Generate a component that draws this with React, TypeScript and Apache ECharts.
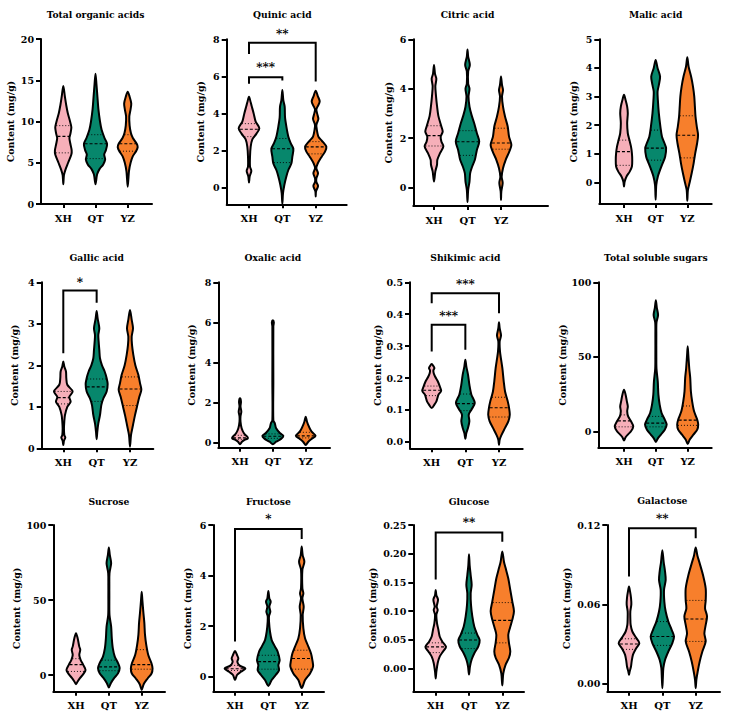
import React, { useEffect, useRef } from 'react';
import * as echarts from 'echarts';

const groups = ['XH', 'QT', 'YZ'];
const fills = ['#F6AFB9', '#07876C', '#F77F2C'];

const titles = ['Total organic acids', 'Quinic acid', 'Citric acid', 'Malic acid', 'Gallic acid', 'Oxalic acid', 'Shikimic acid', 'Total soluble sugars', 'Sucrose', 'Fructose', 'Glucose', 'Galactose'];

const yMin = [0, -0.9, -0.75, -0.75, 0, -0.27, -0.02, -11, -11, -0.59, -0.04, -0.006];
const yMax = [20, 8, 6, 5, 4, 8, 0.5, 100, 100, 6, 0.25, 0.12];
const yTicks = [
  [0, 5, 10, 15, 20], [0, 2, 4, 6, 8], [0, 2, 4, 6], [0, 1, 2, 3, 4, 5],
  [0, 1, 2, 3, 4], [0, 2, 4, 6, 8], [0, 0.1, 0.2, 0.3, 0.4, 0.5], [0, 50, 100],
  [0, 50, 100], [0, 2, 4, 6], [0, 0.05, 0.1, 0.15, 0.2, 0.25], [0, 0.06, 0.12],
];
const yTickDecimals = [0, 0, 0, 0, 0, 0, 1, 0, 0, 0, 2, 2];

// violin outlines: [value, half width in hundredths of a category step]
const totalOrganic = [
  [[14.3,0],[13,5],[12,9],[11,14],[10,21],[9.3,25],[8.5,22],[8,19],[7.3,22],[6.5,26],[6,25],[5,15],[4.2,7],[3.5,2],[2.4,0]],
  [[15.8,0],[14.5,3],[13,6],[11.5,9],[10,14],[9,19],[8,28],[7.3,36],[6.5,32],[6,27],[5.4,30],[4.8,24],[4.2,12],[3.6,5],[2.4,0]],
  [[13.6,0],[13,6],[12.2,11],[11.5,9],[10.6,5],[9.5,6],[8.6,10],[8,16],[7.3,28],[6.9,31],[6.4,26],[5.8,16],[5,9],[4,4],[3,2],[2.1,0]],
];
const quinic = [
  [[4.9,0],[4.6,5],[4.4,8],[4.0,14],[3.56,20],[3.2,31],[2.9,22],[2.6,10],[2.2,5],[1.67,3],[1.13,3],[0.9,7],[0.6,2],[0.27,0]],
  [[5.27,0],[4.7,3],[4.37,7],[3.8,8],[3.3,12],[2.75,18],[2.4,25],[2.1,33],[1.67,30],[1.3,27],[0.95,18],[0.6,12],[0.14,6],[-0.3,2],[-0.88,0]],
  [[5.23,0],[4.95,6],[4.64,12],[4.35,5],[4.2,2],[3.95,5],[3.7,8],[3.45,3],[3.3,2],[2.75,8],[2.5,20],[2.2,32],[1.94,28],[1.67,18],[1.3,6],[1.04,2],[0.77,7],[0.5,2],[0.3,2],[0.09,7],[-0.2,1],[-0.48,0]],
];
const citric = [
  [[4.96,0],[4.6,3],[4.4,7],[4.1,4],[3.7,6],[3.3,9],[2.9,13],[2.47,22],[2.26,26],[2.06,20],[1.86,22],[1.66,28],[1.39,18],[1.12,10],[0.92,9],[0.65,4],[0.24,0]],
  [[5.59,0],[5.3,2],[4.96,7],[4.7,2],[4.2,2],[4.0,6],[3.68,3],[3.27,6],[2.94,12],[2.6,20],[2.2,28],[1.86,35],[1.52,28],[1.12,22],[0.85,14],[0.58,8],[0.24,6],[-0.1,2],[-0.59,0]],
  [[4.49,0],[4.15,3],[3.95,6],[3.68,3],[3.27,6],[2.87,12],[2.47,20],[2.06,24],[1.72,31],[1.46,25],[1.12,14],[0.78,6],[0.44,2],[0.18,5],[-0.16,1],[-0.5,0]],
];
const malic = [
  [[3.06,0],[2.88,5],[2.65,10],[2.42,12],[2.07,10],[1.72,12],[1.49,17],[1.26,22],[1.02,25],[0.79,26],[0.56,25],[0.38,18],[0.21,8],[0.03,2],[-0.14,0]],
  [[4.28,0],[4.0,6],[3.7,14],[3.4,10],[3.17,6],[2.88,7],[2.42,10],[1.95,15],[1.6,20],[1.37,28],[1.2,33],[0.9,30],[0.67,22],[0.44,14],[0.21,7],[-0.08,2],[-0.6,0]],
  [[4.37,0],[4.05,4],[3.7,12],[3.35,18],[3.0,22],[2.65,24],[2.3,26],[1.95,30],[1.66,34],[1.37,31],[1.02,25],[0.67,20],[0.33,14],[0.03,8],[-0.26,2],[-0.64,0]],
];
const gallic = [
  [[2.09,0],[1.97,3],[1.85,8],[1.69,9],[1.53,12],[1.37,28],[1.24,18],[1.12,22],[1.0,12],[0.8,5],[0.64,3],[0.48,2],[0.32,3],[0.26,6],[0.18,2],[0.08,0]],
  [[3.31,0],[3.13,3],[2.89,8],[2.73,5],[2.57,6],[2.37,8],[2.17,10],[2.0,16],[1.85,24],[1.69,30],[1.55,33],[1.37,30],[1.2,20],[1.04,14],[0.8,10],[0.6,5],[0.4,2],[0.22,0]],
  [[3.33,0],[3.1,5],[2.89,9],[2.69,5],[2.49,6],[2.25,10],[2.0,16],[1.77,25],[1.57,30],[1.41,34],[1.24,28],[1.04,22],[0.8,15],[0.56,9],[0.32,3],[0.04,0]],
];
const oxalic = [
  [[2.2,0],[2.03,3],[1.8,1.5],[1.53,4],[1.3,1.5],[1.03,1.5],[0.7,5],[0.45,12],[0.28,22],[0.2,24],[0.12,14],[0.03,6],[-0.1,0]],
  [[6.1,0],[6.0,3],[5.8,1.5],[3,1.5],[1.1,1.5],[0.95,6],[0.7,10],[0.45,22],[0.32,32],[0.17,25],[0.03,10],[-0.1,0]],
  [[1.28,0],[1.03,4],[0.78,10],[0.53,18],[0.33,30],[0.17,18],[0.03,8],[-0.13,0]],
];
const shikimic = [
  [[0.244,0],[0.236,6],[0.231,8],[0.224,5],[0.215,6],[0.205,10],[0.19,18],[0.174,24],[0.16,28],[0.148,20],[0.1375,17],[0.127,14],[0.117,8],[0.106,0]],
  [[0.257,0],[0.236,3],[0.21,8],[0.179,12],[0.148,18],[0.122,28],[0.101,18],[0.085,10],[0.065,12],[0.044,8],[0.028,3],[0.01,0]],
  [[0.375,0],[0.356,2],[0.333,6],[0.315,2],[0.283,3],[0.231,10],[0.19,14],[0.158,18],[0.127,26],[0.106,30],[0.085,32],[0.065,28],[0.044,18],[0.023,8],[0.007,2],[-0.01,0]],
];
const totalSugars = [
  [[27.9,0],[24.6,5],[20.1,9],[16.7,12],[13.4,10],[10,13],[6.7,22],[3.3,29],[0,22],[-2.2,12],[-4,5],[-6.25,0]],
  [[88,0],[83,3],[78,7],[73,2],[65,1.5],[50,1.5],[42,2],[33.5,6],[24.6,8],[17.9,12],[12.3,18],[7.8,28],[4.5,34],[1.1,28],[-2.2,16],[-4.9,6],[-7.1,0]],
  [[57,0],[51,2],[42,5],[35.7,8],[26.8,10],[20,14],[13.4,20],[7.8,30],[4.5,33],[1.1,30],[-2.2,18],[-5.6,6],[-8.5,0]],
];
const sucrose = [
  [[28,0],[24.6,5],[19,10],[16.9,13],[13.5,10],[10.2,14],[6.9,22],[3.5,29],[0.7,22],[-2,12],[-4.2,5],[-6,0]],
  [[85,0],[80,3],[74.5,7],[68,2],[60,1.5],[53,1.5],[40,2],[32.4,7],[24.6,9],[18,12],[12.4,18],[8,28],[4.7,33],[1.3,28],[-2,16],[-5.3,6],[-8.2,0]],
  [[55.6,0],[50,2],[42,5],[35,8],[27,10],[20,14],[13.4,20],[7.8,30],[4.5,33],[1.1,30],[-2.2,18],[-6,6],[-9.8,0]],
];
const fructose = [
  [[1.02,0],[0.86,6],[0.73,10],[0.59,7],[0.44,14],[0.33,31],[0.2,18],[0.07,6],[-0.13,0]],
  [[3.39,0],[3.1,3],[2.97,7],[2.77,3],[2.57,6],[2.4,2],[2.18,2],[1.78,5],[1.45,10],[1.19,20],[0.99,28],[0.66,34],[0.46,30],[0.26,32],[0.07,22],[-0.13,10],[-0.36,0]],
  [[5.15,0],[4.8,3],[4.55,8],[4.22,2],[3.5,2],[3.3,5],[3.1,2],[2.77,6],[2.44,3],[1.91,5],[1.52,10],[1.19,20],[0.92,28],[0.66,32],[0.4,34],[0.13,25],[-0.13,10],[-0.44,0]],
];
const glucose = [
  [[0.137,0],[0.128,2],[0.12,7],[0.108,3],[0.102,6],[0.094,2],[0.079,4],[0.068,8],[0.056,12],[0.047,20],[0.038,31],[0.03,22],[0.021,12],[0.01,6],[-0.005,2],[-0.017,0]],
  [[0.199,0],[0.18,2],[0.163,5],[0.146,8],[0.131,5],[0.111,6],[0.091,10],[0.073,16],[0.059,25],[0.05,32],[0.039,28],[0.027,16],[0.016,8],[0.004,3],[-0.01,0]],
  [[0.204,0],[0.186,5],[0.175,10],[0.157,18],[0.137,24],[0.117,30],[0.1,35],[0.085,30],[0.071,23],[0.059,18],[0.045,20],[0.03,24],[0.019,20],[0.007,10],[-0.008,3],[-0.029,0]],
];
const galactose = [
  [[0.0735,0],[0.07,3],[0.065,6],[0.06,7],[0.0546,4],[0.0496,4],[0.0445,5],[0.0395,10],[0.0345,22],[0.0307,31],[0.027,22],[0.022,12],[0.0169,8],[0.013,6],[0.0093,2],[0.0068,0]],
  [[0.101,0],[0.092,4],[0.085,8],[0.0785,10],[0.071,5],[0.062,6],[0.0546,10],[0.047,18],[0.0408,28],[0.0357,35],[0.0307,30],[0.0244,18],[0.018,8],[0.0118,3],[0.0043,1.5],[-0.0033,0]],
  [[0.103,0],[0.097,5],[0.091,12],[0.082,22],[0.072,30],[0.063,30],[0.057,28],[0.051,34],[0.0445,30],[0.038,26],[0.032,30],[0.0244,20],[0.0169,12],[0.0093,6],[0.003,2],[-0.0033,0]],
];
const profiles = [totalOrganic, quinic, citric, malic, gallic, oxalic, shikimic, totalSugars, sucrose, fructose, glucose, galactose];

const medians = [[8.2,7.3,7.3],[3.15,2.1,2.2],[2.1,1.85,1.8],[1.08,1.2,1.65],[1.22,1.48,1.43],[0.22,0.3,0.32],[0.162,0.12,0.107],[7,5.5,7.5],[7,5.5,7],[0.32,0.6,0.72],[0.038,0.05,0.084],[0.03,0.0357,0.049]];
const upperQuartiles = [[9.5,8.4,8.4],[3.45,2.65,2.48],[2.5,2.3,2.4],[1.48,1.83,2.33],[1.37,1.67,1.72],[0.35,0.42,0.5],[0.175,0.15,0.14],[11,10,17],[11,10,17],[0.45,0.85,1.05],[0.045,0.062,0.115],[0.034,0.047,0.063]];
const lowerQuartiles = [[6.2,5.5,6.4],[2.75,1.35,1.82],[1.68,1.3,1.55],[0.6,0.78,0.86],[1.07,1.13,1.03],[0.15,0.2,0.22],[0.145,0.098,0.078],[3,3,4],[2.5,3,4],[0.25,0.3,0.3],[0.028,0.035,0.045],[0.026,0.029,0.032]];

// significance brackets: [panel, from, to, barValue, leftEnd, rightEnd, labelValue, label]
const brackets: [number, number, number, number, number, number, number, string][] = [
  [1, 0, 1, 5.95, 5.6, 5.78, 6.5, '***'],
  [1, 0, 2, 7.82, 7.21, 5.72, 8.3, '**'],
  [4, 0, 1, 3.8, 2.29, 3.51, 4.0, '*'],
  [6, 0, 1, 0.367, 0.283, 0.289, 0.395, '***'],
  [6, 0, 2, 0.466, 0.434, 0.403, 0.495, '***'],
  [9, 0, 2, 5.84, 1.39, 5.45, 6.25, '*'],
  [10, 0, 2, 0.237, 0.155, 0.221, 0.255, '**'],
  [11, 0, 2, 0.1175, 0.081, 0.11, 0.125, '**'],
];

// layout (pixels): yAxis x, top y, x-axis end x, bottom y, XH centre x, YZ centre x, name gap, title y
const layout = [
  [41, 39, 152, 204, 63.3, 127.7, 26, 15],
  [226.7, 39.3, 346.7, 204.3, 249, 315.7, 21, 15],
  [413.3, 39.3, 548, 206, 434, 501, 20, 15],
  [599.3, 39.3, 711.7, 204, 624, 687.3, 21, 15],
  [41.7, 282.3, 153.3, 448.3, 63.3, 130, 22, 258],
  [218.3, 282.3, 330, 447.7, 240, 305.7, 22, 258],
  [410, 282.3, 522.7, 448.3, 431.7, 499, 28, 258],
  [598.3, 282.3, 711.7, 447.7, 624, 687.7, 30, 258],
  [53.3, 525, 165, 691.7, 76, 141.7, 32, 502],
  [213.3, 525, 324, 691.7, 235, 301.7, 21, 502],
  [413.3, 525, 524, 691.7, 435.7, 502.3, 36, 502],
  [607.3, 525, 720, 691.7, 629, 695.7, 36, 501],
];

const FONT = 'DejaVu Serif';

function widthAt(prof: number[][], v: number) {
  for (let i = 0; i < prof.length - 1; i++) {
    const [v0, w0] = prof[i];
    const [v1, w1] = prof[i + 1];
    if (v <= v0 && v >= v1) {
      const t = v0 === v1 ? 0 : (v0 - v) / (v0 - v1);
      return w0 + (w1 - w0) * t;
    }
  }
  return 0;
}

function buildOption() {
  const grid: any[] = [];
  const xAxis: any[] = [];
  const yAxis: any[] = [];
  const series: any[] = [];
  const title: any[] = [];

  titles.forEach((name, i) => {
    const [L, T, R, B, xh, yz, nameGap, ty] = layout[i];
    const step = (yz - xh) / 2;
    grid.push({ left: L, top: T, width: R - L, height: B - T, containLabel: false, outerBoundsMode: 'none' });
    title.push({
      text: name, left: xh + step, top: ty - 5.5, textAlign: 'center', padding: 0,
      textStyle: { fontFamily: FONT, fontWeight: 'bold', fontSize: 9.2, color: '#000' },
    });
    xAxis.push({
      type: 'value', gridIndex: i,
      min: -(xh - L) / step, max: 2 + (R - yz) / step,
      axisLine: { show: true, onZero: false, lineStyle: { color: '#000', width: 2 } },
      axisTick: { show: true, customValues: [0, 1, 2], length: 4, lineStyle: { color: '#000', width: 2 } },
      axisLabel: {
        customValues: [0, 1, 2], margin: 9,
        formatter: (v: number) => groups[Math.round(v)] || '',
        fontFamily: FONT, fontWeight: 'bold', fontSize: 10, color: '#000',
      },
      splitLine: { show: false },
    });
    const dec = yTickDecimals[i];
    yAxis.push({
      type: 'value', gridIndex: i, min: yMin[i], max: yMax[i],
      name: 'Content (mg/g)', nameLocation: 'middle', nameGap, nameRotate: 90,
      nameTextStyle: { fontFamily: FONT, fontWeight: 'bold', fontSize: 9.5, color: '#000' },
      axisLine: { show: true, onZero: false, lineStyle: { color: '#000', width: 2 } },
      axisTick: { show: true, customValues: yTicks[i], length: 5, lineStyle: { color: '#000', width: 2 } },
      axisLabel: {
        customValues: yTicks[i], margin: 7,
        formatter: (v: number) => v.toFixed(dec),
        fontFamily: FONT, fontWeight: 'bold', fontSize: 9.5, color: '#000',
      },
      splitLine: { show: false },
    });

    series.push({
      type: 'custom', xAxisIndex: i, yAxisIndex: i, silent: true, clip: false,
      itemStyle: { color: '#000' },
      data: groups.map((_, g) => [g, medians[i][g]]),
      renderItem: (params: any, api: any) => {
        const g = api.value(0);
        const prof = profiles[i][g];
        const right = prof.map(([v, w]) => api.coord([g + w / 100, v]));
        const left = prof.slice(1, -1).reverse().map(([v, w]) => api.coord([g - w / 100, v]));
        const children: any[] = [{
          type: 'polygon',
          shape: { points: right.concat(left), smooth: 0.3 },
          style: { fill: fills[g], stroke: '#000', lineWidth: 2, lineJoin: 'round' },
        }];
        const lines: [number, number[]][] = [
          [medians[i][g], [3, 2]],
          [upperQuartiles[i][g], [1, 2]],
          [lowerQuartiles[i][g], [1, 2]],
        ];
        lines.forEach(([m, dash]) => {
          const w = Math.max(0, widthAt(prof, m) / 100 - 0.02);
          const a = api.coord([g - w, m]);
          const b = api.coord([g + w, m]);
          children.push({
            type: 'line', shape: { x1: a[0], y1: a[1], x2: b[0], y2: b[1] },
            style: { stroke: '#000', lineWidth: dash[0] === 3 ? 1.1 : 0.9, lineDash: dash },
          });
        });
        return { type: 'group', children };
      },
    });

    const mine = brackets.filter((b) => b[0] === i);
    if (mine.length) {
      series.push({
        type: 'custom', xAxisIndex: i, yAxisIndex: i, silent: true, clip: false,
        itemStyle: { color: '#000' },
        data: mine.map((b) => [b[1], b[3]]),
        renderItem: (params: any, api: any) => {
          const [, a, b, y, la, lb] = mine[params.dataIndex];
          const p1 = api.coord([a, la]);
          const p2 = api.coord([a, y]);
          const p3 = api.coord([b, y]);
          const p4 = api.coord([b, lb]);
          return { type: 'polyline', shape: { points: [p1, p2, p3, p4] }, style: { stroke: '#000', lineWidth: 2, fill: null } };
        },
      });
    }
  });

  return { animation: false, backgroundColor: '#fff', title, grid, xAxis, yAxis, series };
}

export default function App() {
  const ref = useRef<HTMLDivElement>(null);
  useEffect(() => {
    if (!ref.current) return;
    const chart = echarts.init(ref.current, null, { renderer: 'svg' });
    chart.setOption(buildOption() as any);
    const graphic = brackets.map((b) => {
      const pt = chart.convertToPixel({ gridIndex: b[0] } as any, [(b[1] + b[2]) / 2, b[6]]) as number[];
      return {
        type: 'text', x: pt[0], y: pt[1], rotation: 0.002, silent: true,
        style: {
          text: b[7], fill: '#000', align: 'center', verticalAlign: 'middle',
          font: 'bold 12px DejaVu Serif',
        },
      };
    });
    chart.setOption({ graphic } as any);
    return () => chart.dispose();
  }, []);
  return <div ref={ref} style={{ position: 'absolute', left: 0, top: 0, width: 732, height: 720 }} />;
}
